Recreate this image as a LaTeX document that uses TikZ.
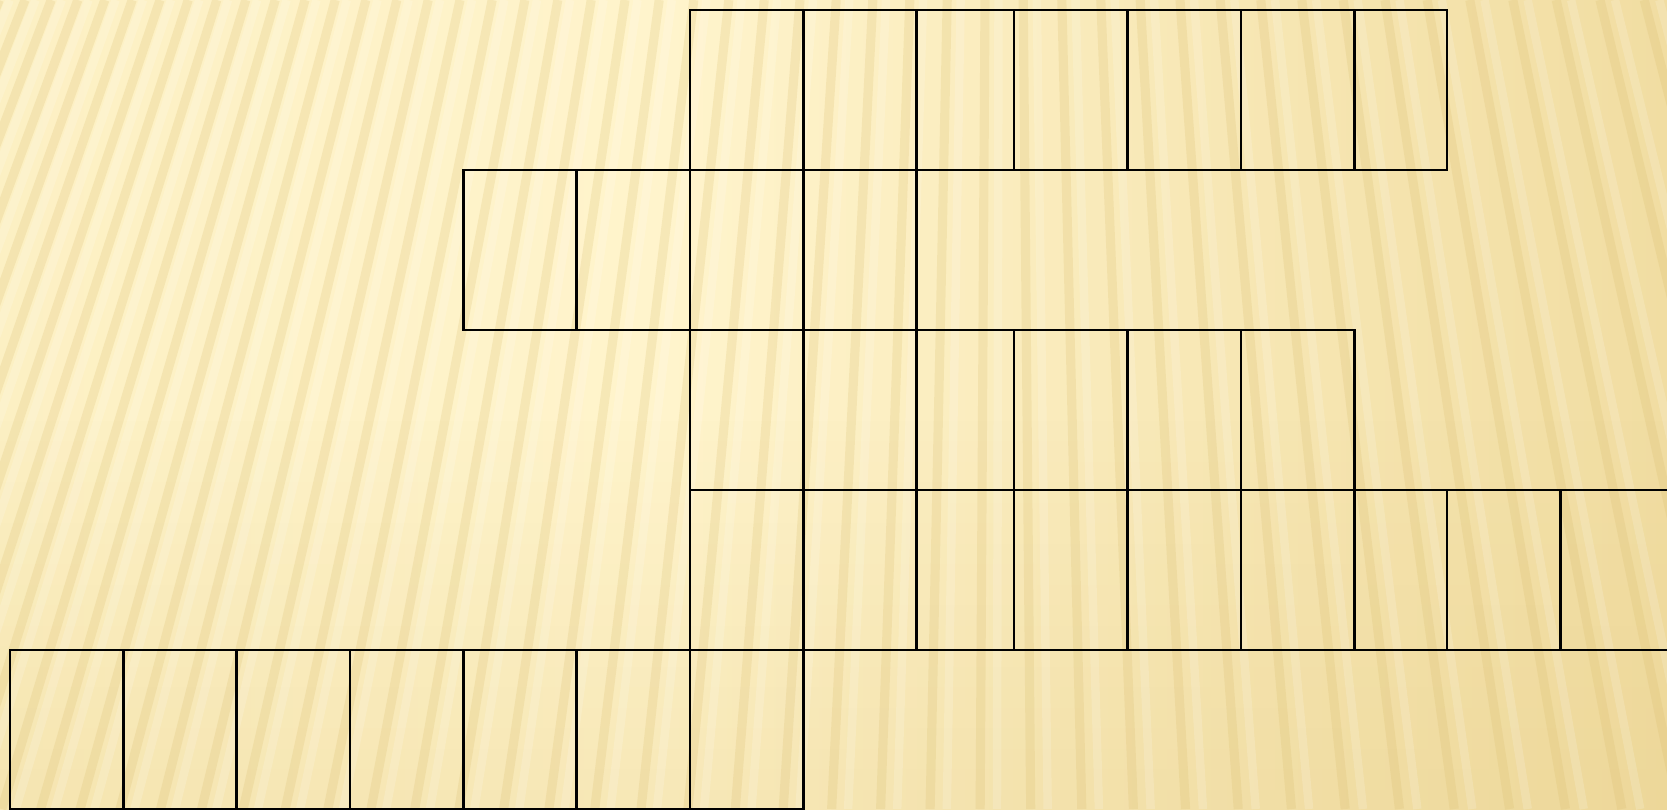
\documentclass[tikz,border=0pt]{standalone}
\usepackage{xcolor}
\definecolor{paper}{HTML}{FFF4CC}
\definecolor{paperedge}{HTML}{F9EBB8}
\definecolor{wheat}{HTML}{F1DDA2}
\definecolor{sand}{HTML}{E5CB85}
\definecolor{streak}{HTML}{D6B865}
\pgfdeclarehorizontalshading{glow}{100bp}{color(0bp)=(paperedge); color(45bp)=(paper);
  color(75bp)=(wheat); color(100bp)=(sand)}

\begin{document}
\begin{tikzpicture}[x=0.01cm, y=-0.01cm,
  cell/.style={draw=black, line width=0.75pt},
  streak/.style={draw=streak, line width=2.6pt, opacity=0.2, line cap=butt},
  gleam/.style={draw=white, line width=2.4pt, opacity=0.16}
]
\clip (0,0) rectangle (1667,809);
\shade[shading=glow] (0,0) rectangle (1667,809);
\foreach \j in {0,...,19}
  \fill[sand, opacity=0.015*\j] (0,400+\j*20.5) rectangle (1667,420.5+\j*20.5);
\foreach \k in {0,...,64}{
  \pgfmathsetmacro\xt{-320+20*\k+0.2*\k*\k}
  \pgfmathsetmacro\xbot{1000+(\xt-1000)*1.3236}
  \draw[streak] (\xt,0) -- (\xbot,809);
  \draw[gleam] (\xt+9+0.1*\k,0) -- (\xbot+11+0.13*\k,809);
}
% row 1
\foreach \xa/\xb in {690/803.3, 803.3/916.7, 916.7/1014, 1014/1127.5,
                     1127.5/1241, 1241/1354.5, 1354.5/1447}
  \draw[cell] (\xa,10) rectangle (\xb,170);
% row 2
\foreach \xa/\xb in {463.3/576.7, 576.7/690, 690/803.3, 803.3/916.7}
  \draw[cell] (\xa,170) rectangle (\xb,330);
% row 3
\foreach \xa/\xb in {690/803.3, 803.3/916.7, 916.7/1014, 1014/1127.5,
                     1127.5/1241, 1241/1354.5}
  \draw[cell] (\xa,330) rectangle (\xb,490);
% row 4
\foreach \xa/\xb in {690/803.3, 803.3/916.7, 916.7/1014, 1014/1127.5,
                     1127.5/1241, 1241/1354.5, 1354.5/1447, 1447/1560.5,
                     1560.5/1674}
  \draw[cell] (\xa,490) rectangle (\xb,650);
% row 5
\foreach \xa/\xb in {10/123.3, 123.3/236.7, 236.7/350, 350/463.3,
                     463.3/576.7, 576.7/690, 690/803.3}
  \draw[cell] (\xa,650) rectangle (\xb,809);
\end{tikzpicture}
\end{document}
